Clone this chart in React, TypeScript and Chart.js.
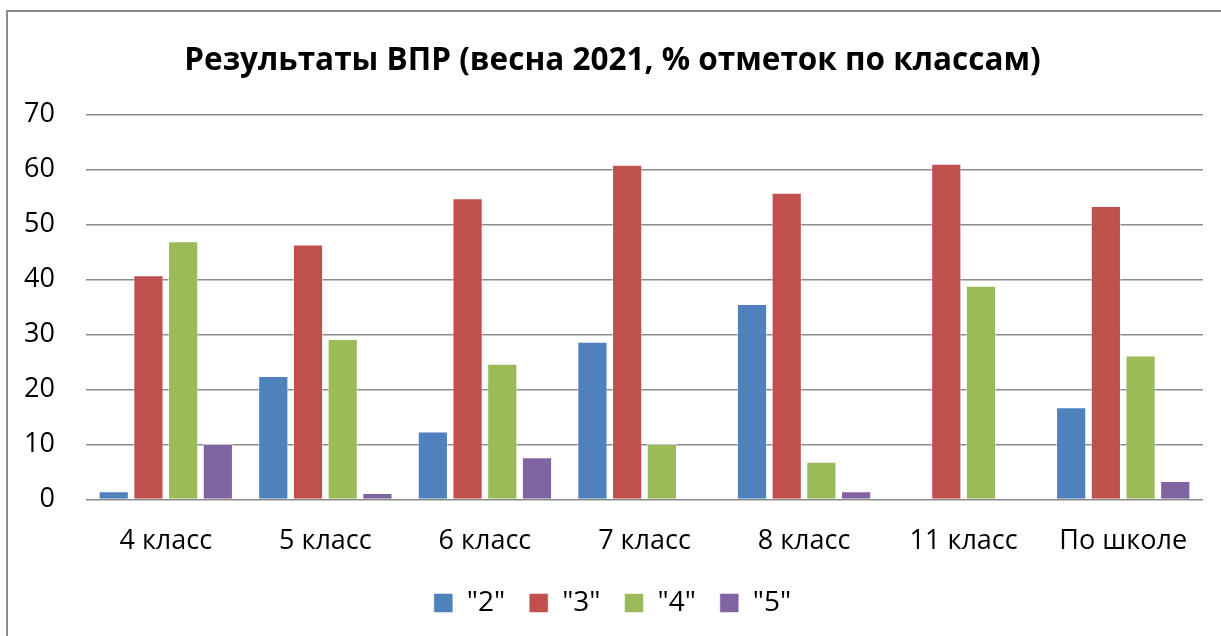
import React, { useEffect, useRef } from "react";
import { Chart, registerables } from "chart.js";

Chart.register(...registerables);

const categories = ["4 класс", "5 класс", "6 класс", "7 класс", "8 класс", "11 класс", "По школе"];
const grade2 = [1.5, 22.5, 12.4, 28.7, 35.6, 0, 16.8];
const grade3 = [40.8, 46.4, 54.8, 60.9, 55.8, 61.1, 53.4];
const grade4 = [47.0, 29.2, 24.7, 10.1, 6.9, 38.9, 26.2];
const grade5 = [10.1, 1.2, 7.7, 0, 1.5, 0, 3.4];
const seriesNames = ['"2"', '"3"', '"4"', '"5"'];
const titleText = "Результаты ВПР (весна 2021, % отметок по классам)";

const colors = ["#4F81BD", "#C0504D", "#9BBB59", "#8064A2"];

const framePlugin = {
  id: "frame",
  beforeDraw(chart: any) {
    const ctx = chart.ctx;
    ctx.save();
    ctx.fillStyle = "#ffffff";
    ctx.fillRect(0, 0, chart.width, chart.height);
    ctx.strokeStyle = "#8c8c8c";
    ctx.lineWidth = 2;
    ctx.strokeRect(7, 11, chart.width + 20, chart.height + 20);
    ctx.restore();
  },
};

export default function App() {
  const ref = useRef<HTMLCanvasElement | null>(null);
  useEffect(() => {
    if (!ref.current) return;
    const data = [grade2, grade3, grade4, grade5];
    const chart = new Chart(ref.current, {
      type: "bar",
      data: {
        labels: categories,
        datasets: data.map((d, i) => ({
          label: seriesNames[i],
          data: d,
          backgroundColor: colors[i],
          borderColor: "rgba(255,255,255,0.5)",
          borderWidth: 1,
          categoryPercentage: 0.87,
          barPercentage: 0.87,
        })),
      },
      options: {
        animation: false,
        responsive: false,
        maintainAspectRatio: false,
        layout: { padding: { left: 22, right: 18, top: 0, bottom: 9 } },
        plugins: {
          title: {
            display: true,
            text: titleText,
            color: "#000",
            font: { family: "Open Sans", size: 31.5, weight: "bold" },
            padding: { top: 42, bottom: 35 },
          },
          legend: {
            position: "bottom",
            labels: {
              color: "#000",
              font: { family: "Open Sans", size: 28 },
              boxWidth: 19,
              boxHeight: 19,
              padding: 24,
            },
          },
          tooltip: { enabled: false },
        },
        scales: {
          x: {
            afterFit: (s: any) => {
              s.height = 65.4;
            },
            grid: { display: false, drawTicks: false },
            border: { display: false },
            ticks: {
              color: "#000",
              font: { family: "Open Sans", size: 27 },
              padding: 26,
              maxRotation: 0,
            },
          },
          y: {
            min: 0,
            max: 70,
            afterFit: (s: any) => {
              s.width = 64;
            },
            grid: { color: "#8c8c8c", lineWidth: 1.5, drawTicks: false },
            border: { display: false },
            ticks: {
              stepSize: 10,
              color: "#000",
              font: { family: "Open Sans", size: 27 },
              padding: 31,
            },
          },
        },
      },
      plugins: [framePlugin],
    });
    return () => chart.destroy();
  }, []);
  return (
    <div style={{ position: "fixed", left: 0, top: 0, width: 1221, height: 636, background: "#fff" }}>
      <canvas ref={ref} width={1221} height={636} style={{ display: "block", width: 1221, height: 636 }} />
    </div>
  );
}
